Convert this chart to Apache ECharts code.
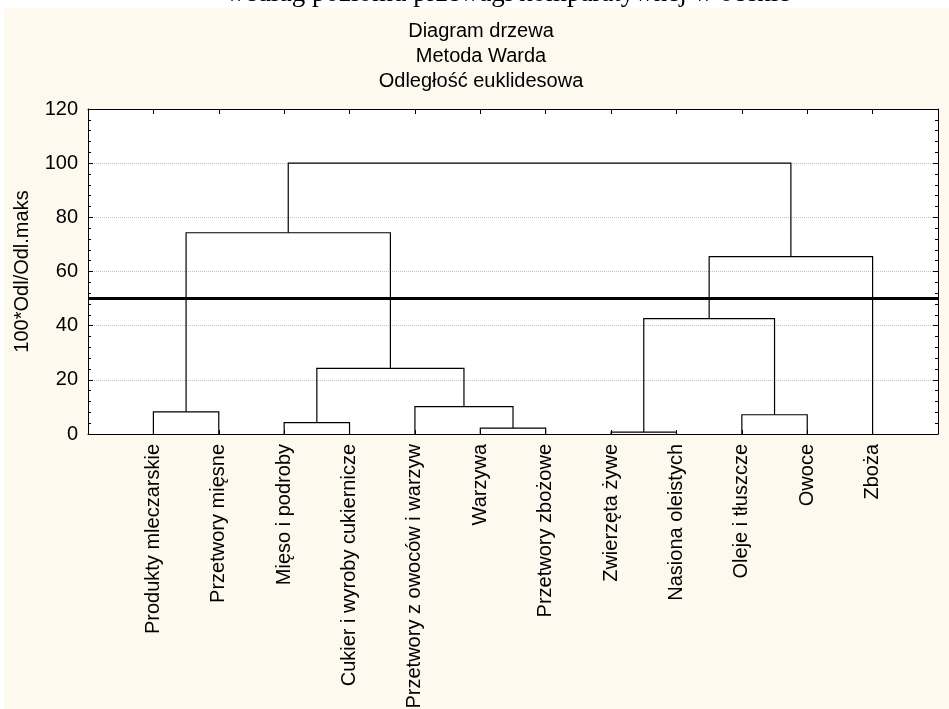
<!DOCTYPE html>
<html>
<head>
<meta charset="utf-8">
<script src="https://cdn.jsdelivr.net/npm/echarts@6/dist/echarts.min.js"></script>
<style>
  html, body { margin: 0; padding: 0; background: #fff; }
  .frame { position: absolute; left: 4px; top: 8px; right: 0; bottom: 0; background: #fdf9ef; }
  #treeChart { position: absolute; left: 0; top: 0; width: 949px; height: 709px; }
</style>
</head>
<body>
<div class="frame"></div>
<div id="treeChart"></div>
<script>
const leafNames = [
  "Produkty mleczarskie",
  "Przetwory mięsne",
  "Mięso i podroby",
  "Cukier i wyroby cukiernicze",
  "Przetwory z owoców i warzyw",
  "Warzywa",
  "Przetwory zbożowe",
  "Zwierzęta żywe",
  "Nasiona oleistych",
  "Oleje i tłuszcze",
  "Owoce",
  "Zboża",
];

// [left, right, height]: positive = leaf number (1..12), negative = earlier merge (-1 = first row)
const merges = [
  [8, 9, 0.7],
  [6, 7, 2.2],
  [3, 4, 4.2],
  [10, 11, 7.1],
  [1, 2, 8.2],
  [5, -2, 10.1],
  [-3, -6, 24.2],
  [-1, -4, 42.6],
  [-8, 12, 65.5],
  [-5, -7, 74.3],
  [-10, -9, 100],
];

const cutLevel = 50;
const yMax = 120;
const yStep = 20;

const nodes = [];
function nodePos(ref) {
  return ref > 0 ? [ref, 0] : nodes[-ref - 1];
}
const links = merges.map(([a, b, h]) => {
  const pa = nodePos(a);
  const pb = nodePos(b);
  nodes.push([(pa[0] + pb[0]) / 2, h]);
  return { coords: [pa, [pa[0], h], [pb[0], h], pb] };
});

const font = "'Liberation Sans', Arial, sans-serif";
const xMax = leafNames.length + 1;
const axisLine = { show: true, onZero: false, lineStyle: { color: "#000", width: 1 } };

const chart = echarts.init(document.getElementById("treeChart"));

const option = {
  animation: false,
  textStyle: { fontFamily: font },
  graphic: [
    {
      type: "text",
      x: 508,
      y: 7,
      style: {
        text: "według poziomu przewagi komparatywnej w ocenie",
        font: "27px 'Liberation Serif', 'Times New Roman', serif",
        fill: "#000",
        align: "center",
        verticalAlign: "bottom",
      },
    },
    { type: "text", x: 481, y: 31, style: { text: "Diagram drzewa", font: "20px " + font, fill: "#000", align: "center", verticalAlign: "middle" } },
    { type: "text", x: 481, y: 56, style: { text: "Metoda Warda", font: "20px " + font, fill: "#000", align: "center", verticalAlign: "middle" } },
    { type: "text", x: 481, y: 81, style: { text: "Odległość euklidesowa", font: "20px " + font, fill: "#000", align: "center", verticalAlign: "middle" } },
  ],
  grid: {
    left: 88,
    top: 109,
    width: 850,
    height: 325,
    outerBoundsMode: "none",
    containLabel: false,
    show: true,
    backgroundColor: "#fff",
    borderWidth: 0,
  },
  xAxis: [
    {
      type: "value",
      min: 0,
      max: xMax,
      interval: 1,
      position: "bottom",
      axisLine: axisLine,
      axisTick: { show: true, inside: true, length: 4, lineStyle: { color: "#000" } },
      axisLabel: {
        rotate: 90,
        margin: 10,
        fontSize: 20,
        color: "#000",
        formatter: (v) => leafNames[v - 1] || "",
      },
      splitLine: { show: false },
    },
    {
      type: "value",
      min: 0,
      max: xMax,
      interval: 1,
      position: "top",
      axisLine: axisLine,
      axisTick: { show: true, inside: true, length: 5, lineStyle: { color: "#000" } },
      axisLabel: { show: false },
      splitLine: { show: false },
    },
  ],
  yAxis: [
    {
      type: "value",
      min: 0,
      max: yMax,
      interval: yStep,
      position: "left",
      name: "100*Odl/Odl.maks",
      nameLocation: "middle",
      nameGap: 56,
      nameTextStyle: { fontSize: 20, color: "#000" },
      axisLine: axisLine,
      axisTick: { show: true, inside: true, length: 5, lineStyle: { color: "#000" } },
      minorTick: { show: true, splitNumber: 5, length: 3, lineStyle: { color: "#000" } },
      axisLabel: { fontSize: 20, color: "#000", margin: 10 },
      splitLine: { show: true, lineStyle: { color: "#c4c4c4", type: "dotted", width: 1 } },
    },
    {
      type: "value",
      min: 0,
      max: yMax,
      interval: yStep,
      position: "right",
      axisLine: axisLine,
      axisTick: { show: true, inside: true, length: 5, lineStyle: { color: "#000" } },
      minorTick: { show: true, splitNumber: 5, length: 3, lineStyle: { color: "#000" } },
      axisLabel: { show: false },
      splitLine: { show: false },
    },
  ],
  series: [
    {
      type: "lines",
      coordinateSystem: "cartesian2d",
      xAxisIndex: 0,
      yAxisIndex: 0,
      polyline: true,
      silent: true,
      lineStyle: { color: "#000", width: 1.2, opacity: 1 },
      data: links,
    },
    {
      type: "line",
      xAxisIndex: 0,
      yAxisIndex: 0,
      symbol: "none",
      silent: true,
      lineStyle: { color: "#000", width: 3 },
      data: [[0, cutLevel], [xMax, cutLevel]],
    },
  ],
};

chart.setOption(option);
</script>
</body>
</html>
